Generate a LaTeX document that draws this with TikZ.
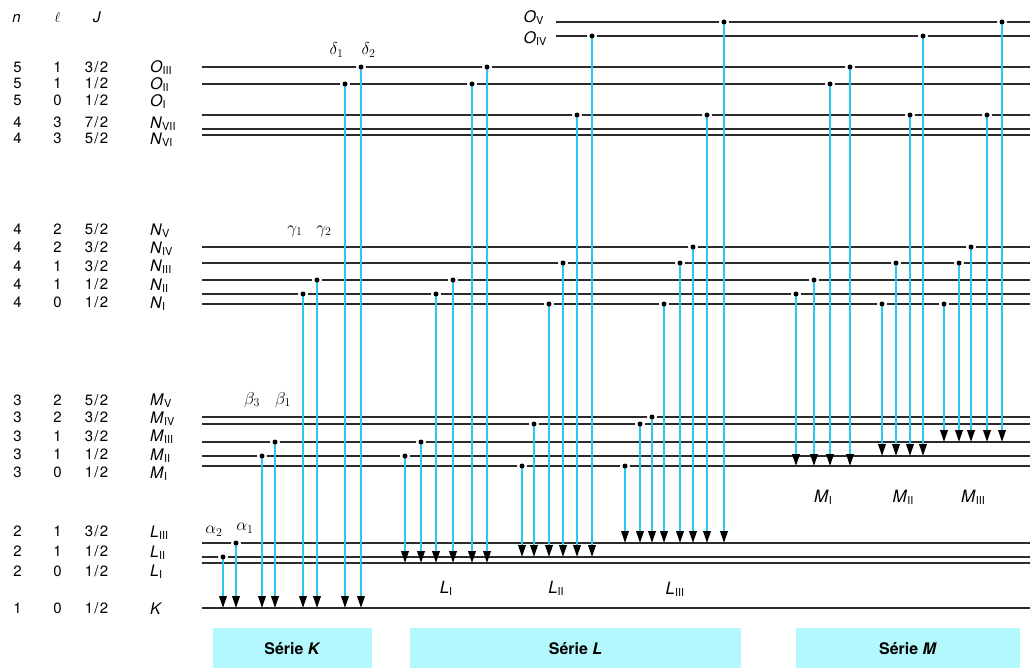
\documentclass[tikz,border=0pt]{standalone}
\usepackage{fontspec}
\setmainfont{TeX Gyre Heros}
\usetikzlibrary{arrows.meta}
\definecolor{lvl}{HTML}{2B2B2B}
\definecolor{raycol}{HTML}{2EC6F5}
\definecolor{boxc}{HTML}{B3F8FC}
\newcommand{\sbs}[1]{\raisebox{-2.2pt}{\fontsize{11}{11}\selectfont #1}}
\newcommand{\fr}[2]{#1\kern1.2pt/\kern1.2pt#2}
\tikzset{
  levelline/.style={draw=lvl, line width=1.6bp},
  rayline/.style={draw=raycol, line width=2bp, -{Triangle[length=12bp,width=7.5bp,color=black]}},
  halo/.style={fill=white},
  dotc/.style={fill=black},
  coltxt/.style={font=\fontsize{15}{15}\selectfont, anchor=base, inner sep=0},
  lvllab/.style={font=\fontsize{16}{16}\selectfont, anchor=base west, inner sep=0},
  greek/.style={font=\fontsize{18}{18}\selectfont, anchor=center, inner sep=0},
  serlab/.style={font=\fontsize{17}{17}\selectfont, anchor=center, inner sep=0},
  serbox/.style={fill=boxc, draw=none},
  sertxt/.style={font=\bfseries\fontsize{16}{16}\selectfont, anchor=center, inner sep=0},
}
\def\levels{OV/556/22, OIV/556/36, OIII/202/67, OII/202/84, OI/202/115, NVII/202/129, NVI/202/135,
  NV/202/247, NIV/202/263, NIII/202/280, NII/202/294, NI/202/304,
  MV/202/417, MIV/202/424, MIII/202/442, MII/202/456, MI/202/466,
  LIII/202/543, LII/202/557, LI/202/563, K/202/608}
\def\translist{a2/223/557/608, a1/236/543/608, b3/262/456/608, b1/275/442/608,
  g1/303/294/608, g2/317/280/608, d1/345/84/608, d2/361/67/608,
  la1/405/456/563, la2/421/442/563, la3/436/294/563, la4/453/280/563, la5/472/84/563, la6/487/67/563,
  lb1/522/466/557, lb2/534/424/557, lb3/549/304/557, lb4/563/263/557, lb5/577/115/557, lb6/592/36/557,
  lc1/625/466/543, lc2/640/424/543, lc3/652/417/543, lc4/664/304/543, lc5/680/263/543, lc6/693/247/543, lc7/707/115/543, lc8/724/22/543,
  ma1/796/294/466, ma2/814/280/466, ma3/830/84/466, ma4/850/67/466,
  mb1/882/304/456, mb2/896/263/456, mb3/910/115/456, mb4/923/36/456,
  mc1/944/304/442, mc2/959/263/442, mc3/971/247/442, mc4/987/115/442, mc5/1002/22/442}
\begin{document}
\begin{tikzpicture}[x=1bp,y=-1bp]
\useasboundingbox (0,0) rectangle (1030,668);
% level lines
\foreach \nm/\xs/\y in \levels {
  \coordinate (\nm-l) at (\xs,\y);
  \coordinate (\nm-r) at (1030,\y);
  \draw[levelline] (\nm-l) -- (\nm-r);
}
% transition end points
\foreach \nm/\x/\ys/\ye in \translist {
  \coordinate (\nm-s) at (\x,\ys);
  \coordinate (\nm-e) at (\x,\ye);
}
\foreach \nm/\x/\ys/\ye in \translist { \fill[halo] (\nm-s) circle (5bp); }
\foreach \nm/\x/\ys/\ye in \translist { \draw[rayline] (\nm-s) -- (\nm-e); }
\foreach \nm/\x/\ys/\ye in \translist { \fill[dotc] (\nm-s) circle (2.5bp); }
% column headers
\node[coltxt] (hn) at (16.5,23) {\textit{n}};
\node[coltxt] (hl) at (57.5,23) {$\ell$};
\node[coltxt] (hj) at (97,23) {\textit{J}};
% columns n, l, J
\foreach \i/\n/\l/\a/\b/\y in {1/5/1/3/2/67, 2/5/1/1/2/83.5, 3/5/0/1/2/100.5, 4/4/3/7/2/122.5, 5/4/3/5/2/138.5,
  6/4/2/5/2/229.5, 7/4/2/3/2/247.5, 8/4/1/3/2/266, 9/4/1/1/2/284.5, 10/4/0/1/2/302.5,
  11/3/2/5/2/400, 12/3/2/3/2/417.5, 13/3/1/3/2/436, 14/3/1/1/2/454.5, 15/3/0/1/2/472.5,
  16/2/1/3/2/531.5, 17/2/1/1/2/551.5, 18/2/0/1/2/571, 19/1/0/1/2/608.5} {
  \node[coltxt] (cn\i) at (17.5,\y+5.3) {\n};
  \node[coltxt] (cl\i) at (57.5,\y+5.3) {\l};
  \node[coltxt] (cj\i) at (96.5,\y+5.3) {\fr{\a}{\b}};
}
% level labels
\foreach \i/\a/\s/\y in {1/O/III/67, 2/O/II/83.5, 3/O/I/100.5, 4/N/VII/122.5, 5/N/VI/138.5,
  6/N/V/229.5, 7/N/IV/247.5, 8/N/III/266, 9/N/II/284.5, 10/N/I/302.5,
  11/M/V/400, 12/M/IV/417.5, 13/M/III/436, 14/M/II/454.5, 15/M/I/472.5,
  16/L/III/531.5, 17/L/II/551.5, 18/L/I/571} {
  \node[lvllab] (ll\i) at (150,\y+5.8) {\textit{\a}\sbs{\s}};
}
\node[lvllab] (llK) at (150,608.5+5.8) {\textit{K}};
\node[lvllab] (llOV) at (523.5,17+5.8) {\textit{O}\sbs{V}};
\node[lvllab] (llOIV) at (523.5,38+5.8) {\textit{O}\sbs{IV}};
% line labels
\node[greek] (ta2) at (214,531) {$\alpha_2$};
\node[greek] (ta1) at (245,528) {$\alpha_1$};
\node[greek] (tb3) at (252,400) {$\beta_3$};
\node[greek] (tb1) at (283,400) {$\beta_1$};
\node[greek] (tg1) at (295,231) {$\gamma_1$};
\node[greek] (tg2) at (324,231) {$\gamma_2$};
\node[greek] (td1) at (336.5,50) {$\delta_1$};
\node[greek] (td2) at (368.5,50) {$\delta_2$};
% sub-series labels
\node[serlab] (sLI) at (446,588) {\textit{L}\sbs{I}};
\node[serlab] (sLII) at (556,588) {\textit{L}\sbs{II}};
\node[serlab] (sLIII) at (675,589) {\textit{L}\sbs{III}};
\node[serlab] (sMI) at (823,497) {\textit{M}\sbs{I}};
\node[serlab] (sMII) at (903,497) {\textit{M}\sbs{II}};
\node[serlab] (sMIII) at (973,497) {\textit{M}\sbs{III}};
% series boxes
\fill[serbox] (213,628) rectangle (372,668);
\fill[serbox] (410,628) rectangle (741,668);
\fill[serbox] (796,628) rectangle (1020,668);
\node[sertxt] (bK) at (292.5,649) {Série \textit{K}};
\node[sertxt] (bL) at (575.5,649) {Série \textit{L}};
\node[sertxt] (bM) at (908,649) {Série \textit{M}};
\end{tikzpicture}
\end{document}
